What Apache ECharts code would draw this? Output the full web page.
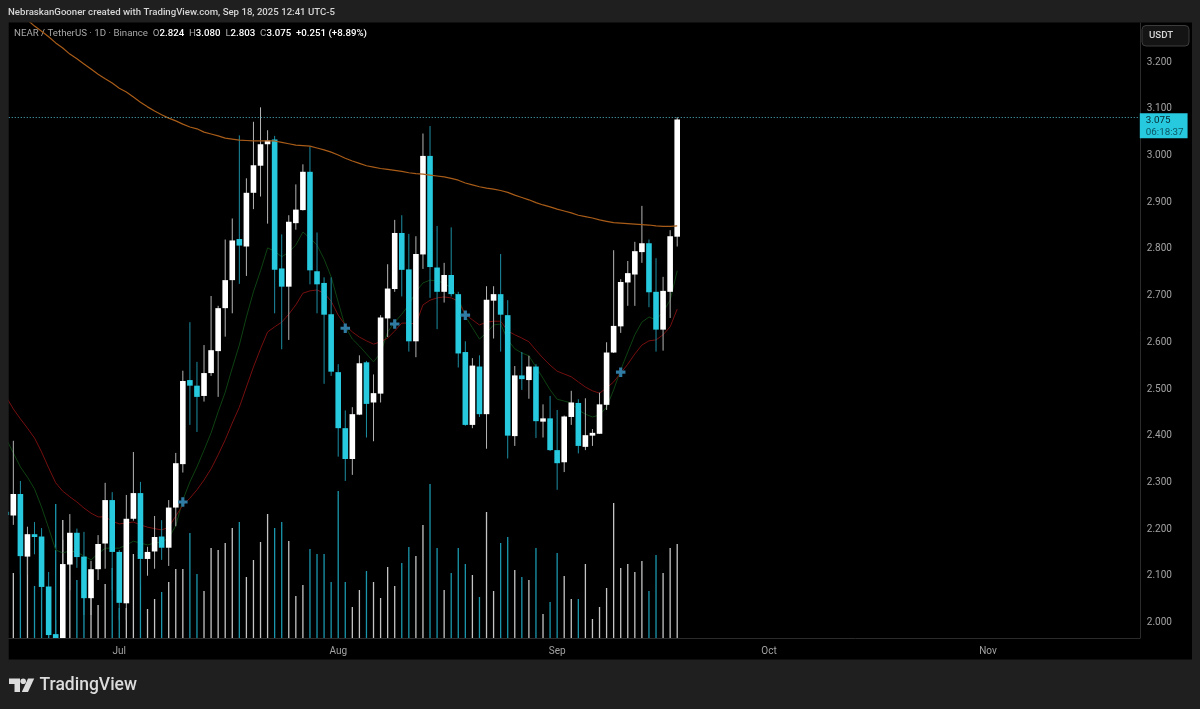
<!DOCTYPE html>
<html>
<head>
<meta charset="utf-8">
<title>NEAR / TetherUS</title>
<script src="https://cdn.jsdelivr.net/npm/echarts@6/dist/echarts.min.js"></script>
<style>
  html, body { margin: 0; padding: 0; background: #1f1f1f; }
  #main { width: 1200px; height: 709px; }
</style>
</head>
<body>
<div id="main"></div>
<script type="text/javascript">
// daily candles, from Jun 15 2025 to Sep 18 2025 (the first one is cut off by the pane edge)
var opens = [
  2.235,
  2.227,2.273,2.139,2.187,2.182,2.075,1.973,1.955,2.122,2.190,2.139,2.050,2.112,2.167,2.260,2.149,2.039,2.220,2.275,2.134,
  2.150,2.182,2.158,2.244,2.337,2.517,2.505,2.483,2.532,2.579,2.671,2.731,2.819,2.803,2.918,2.976,3.022,3.032,2.756,2.717,
  2.853,2.881,2.963,2.750,2.725,2.658,2.534,2.414,2.348,2.443,2.555,2.469,2.488,2.649,2.712,2.832,2.754,2.600,2.786,2.997,
  2.758,2.706,2.742,2.701,2.577,2.421,2.546,2.444,2.687,2.701,2.656,2.397,2.527,2.517,2.546,2.428,2.435,2.367,2.341,2.438,
  2.468,2.374,2.398,2.402,2.464,2.576,2.632,2.726,2.743,2.791,2.810,2.706,2.625,2.706,2.824
];
var closes = [
  2.228,
  2.273,2.140,2.187,2.181,2.074,1.971,1.955,2.123,2.190,2.138,2.050,2.112,2.166,2.260,2.149,2.040,2.220,2.275,2.134,2.149,
  2.181,2.158,2.244,2.339,2.515,2.505,2.481,2.532,2.581,2.671,2.731,2.816,2.805,2.918,2.977,3.022,3.030,2.753,2.717,2.856,
  2.882,2.963,2.752,2.722,2.657,2.535,2.414,2.348,2.444,2.553,2.466,2.489,2.651,2.713,2.832,2.753,2.600,2.787,2.997,2.759,
  2.706,2.742,2.701,2.574,2.421,2.548,2.444,2.689,2.701,2.657,2.398,2.527,2.519,2.546,2.429,2.435,2.367,2.339,2.439,2.469,
  2.376,2.399,2.404,2.465,2.576,2.633,2.727,2.746,2.793,2.810,2.705,2.625,2.708,2.825,3.075
];
var lows = [
  2.220,
  2.207,2.100,2.100,2.144,2.046,1.965,1.945,1.945,2.067,2.115,2.014,2.014,2.089,2.113,2.067,2.003,2.003,2.216,2.078,2.098,
  2.113,2.132,2.119,2.204,2.319,2.421,2.406,2.471,2.526,2.481,2.610,2.660,2.723,2.740,2.883,2.910,2.852,2.660,2.583,2.603,
  2.839,2.880,2.722,2.660,2.509,2.526,2.353,2.301,2.314,2.442,2.394,2.386,2.469,2.609,2.706,2.696,2.578,2.566,2.755,2.693,
  2.626,2.683,2.696,2.544,2.419,2.414,2.438,2.370,2.606,2.578,2.349,2.376,2.496,2.477,2.393,2.394,2.365,2.282,2.320,2.421,
  2.360,2.367,2.376,2.402,2.453,2.575,2.618,2.676,2.676,2.768,2.673,2.578,2.580,2.650,2.803
];
var highs = [
  2.250,
  2.387,2.301,2.203,2.213,2.200,2.106,2.003,2.175,2.230,2.199,2.192,2.130,2.185,2.297,2.277,2.153,2.271,2.363,2.299,2.160,
  2.226,2.217,2.260,2.361,2.537,2.641,2.556,2.592,2.697,2.676,2.818,2.863,3.041,2.949,3.070,3.101,3.052,3.040,2.829,2.870,
  2.936,2.979,3.017,2.833,2.737,2.737,2.551,2.452,2.459,2.570,2.558,2.529,2.656,2.765,2.860,2.870,2.830,2.825,3.045,3.061,
  2.847,2.768,2.844,2.706,2.600,2.564,2.570,2.718,2.718,2.787,2.688,2.547,2.577,2.569,2.551,2.465,2.483,2.453,2.441,2.494,
  2.476,2.478,2.412,2.490,2.598,2.795,2.733,2.772,2.813,2.890,2.818,2.778,2.738,2.838,3.080
];
// volume has no scale on the picture, these are relative heights
var volumes = [
  60,
  65,100,90,52,70,30,134,118,80,58,80,50,33,54,70,30,30,84,78,29,
  39,46,56,69,69,105,64,47,90,88,95,110,116,61,78,96,124,110,116,97,
  42,53,89,84,84,56,147,56,31,48,67,56,40,71,52,75,91,82,113,154,
  90,48,65,90,74,63,41,126,47,95,101,68,61,58,90,24,36,85,62,39,
  39,74,19,31,50,135,70,74,66,77,47,83,65,90,94
];
var emaFast = [
  2.391,
  2.361,2.331,2.309,2.284,2.245,2.200,2.153,2.147,2.151,2.149,2.140,2.132,2.145,2.157,2.157,2.157,2.164,2.172,2.168,2.164,
  2.168,2.170,2.179,2.205,2.260,2.299,2.331,2.367,2.404,2.449,2.491,2.543,2.592,2.652,2.706,2.751,2.800,2.793,2.781,2.791,
  2.806,2.834,2.821,2.806,2.776,2.738,2.684,2.631,2.605,2.590,2.573,2.556,2.575,2.620,2.641,2.658,2.678,2.706,2.725,2.731,
  2.729,2.725,2.714,2.693,2.654,2.629,2.605,2.618,2.635,2.637,2.603,2.584,2.575,2.569,2.545,2.521,2.496,2.476,2.472,2.468,
  2.453,2.444,2.438,2.442,2.459,2.496,2.539,2.577,2.614,2.641,2.652,2.646,2.663,2.688,2.751
];
var emaSlow = [
  2.481,
  2.455,2.434,2.414,2.393,2.363,2.329,2.297,2.279,2.267,2.256,2.243,2.232,2.224,2.224,2.215,2.209,2.211,2.213,2.207,2.202,
  2.199,2.196,2.202,2.226,2.249,2.264,2.282,2.303,2.327,2.357,2.389,2.425,2.459,2.502,2.545,2.584,2.620,2.631,2.641,2.658,
  2.678,2.703,2.708,2.710,2.703,2.686,2.656,2.635,2.620,2.609,2.601,2.594,2.599,2.607,2.622,2.639,2.639,2.637,2.678,2.688,
  2.693,2.695,2.693,2.686,2.658,2.646,2.635,2.641,2.643,2.643,2.622,2.614,2.607,2.599,2.581,2.564,2.549,2.536,2.530,2.524,
  2.513,2.502,2.494,2.489,2.500,2.513,2.532,2.551,2.573,2.592,2.601,2.603,2.614,2.631,2.669
];
var maLong = [
  3.350,
  3.330,3.310,3.288,3.275,3.264,3.252,3.239,3.228,3.215,3.205,3.194,3.183,3.172,3.162,3.153,3.142,3.134,3.123,3.112,3.102,
  3.093,3.085,3.078,3.072,3.065,3.059,3.055,3.048,3.044,3.040,3.035,3.033,3.031,3.030,3.029,3.029,3.029,3.029,3.026,3.023,
  3.020,3.019,3.018,3.014,3.010,3.005,2.999,2.992,2.986,2.981,2.976,2.973,2.970,2.968,2.966,2.964,2.961,2.959,2.958,2.956,
  2.954,2.952,2.949,2.945,2.939,2.935,2.931,2.928,2.926,2.923,2.919,2.913,2.908,2.903,2.897,2.892,2.888,2.883,2.879,2.875,
  2.870,2.867,2.864,2.860,2.857,2.854,2.853,2.852,2.851,2.850,2.849,2.847,2.846,2.846,2.847
];
// [candle index, price] of the blue crosses
var crosses = [[25, 2.256], [48, 2.628], [55, 2.637], [65, 2.656], [87, 2.534]];
var priceTicks = [2.0, 2.1, 2.2, 2.3, 2.4, 2.5, 2.6, 2.7, 2.8, 2.9, 3.0, 3.1, 3.2];
var monthNames = {6: 'Jul', 7: 'Aug', 8: 'Sep', 9: 'Oct', 10: 'Nov'};
var lastClose = 3.075;
var countdown = '06:18:37';
var headerText = 'NebraskanGooner created with TradingView.com, Sep 18, 2025 12:41 UTC-5';

var upColor = '#ffffff', downColor = '#26c9de';
var upWick = '#b4b4b4', downWick = '#1c8ea3';
var upVol = '#c4c4c4', downVol = '#1a97ad';

// axis runs on past the last candle, up to the start of Nov and a bit more
var categories = [];
for (var d = 0; d < 161; d++) {
  var day = new Date(Date.UTC(2025, 5, 15 + d));
  categories.push(day.toISOString().slice(0, 10));
}
function monthStart(idx) {
  var p = categories[idx].split('-');
  return p[2] === '01' && monthNames[+p[1] - 1] !== undefined;
}

var candleData = opens.map(function (o, i) { return [i, o, closes[i], lows[i], highs[i]]; });
var volumeData = volumes.map(function (v, i) {
  return {value: v, itemStyle: {color: closes[i] >= opens[i] ? upVol : downVol}};
});

function renderCandle(params, api) {
  var i = api.value(0), o = api.value(1), c = api.value(2), l = api.value(3), h = api.value(4);
  var isUp = c >= o;
  var top = api.coord([i, Math.max(o, c)]);
  var bottom = api.coord([i, Math.min(o, c)]);
  var wickTop = api.coord([i, h]);
  var wickBottom = api.coord([i, l]);
  var w = 5.6;
  return {
    type: 'group',
    children: [{
      type: 'line',
      shape: {x1: top[0], y1: wickTop[1], x2: top[0], y2: wickBottom[1]},
      style: {stroke: isUp ? upWick : downWick, lineWidth: 1}
    }, {
      type: 'rect',
      shape: {x: top[0] - w / 2, y: top[1], width: w, height: Math.max(bottom[1] - top[1], 1)},
      style: {fill: isUp ? upColor : downColor}
    }]
  };
}

var axisText = {color: '#a3a3a3', fontSize: 10, padding: [2, 0, 0, 0], fontFamily: 'Roboto'};

var myChart = echarts.init(document.getElementById('main'));
var option = {
  animation: false,
  backgroundColor: '#1f1f1f',
  textStyle: {fontFamily: 'Roboto'},
  // the grid starts left of the pane, the Jun 15 candle sits under the frame
  grid: {left: 2.74, top: 23, width: 1137.06, height: 615},
  xAxis: {
    type: 'category',
    data: categories,
    axisLine: {lineStyle: {color: '#2b2b2b'}},
    axisTick: {show: false},
    splitLine: {show: false},
    axisLabel: {
      margin: 6,
      rich: {t: axisText},
      interval: function (idx) { return monthStart(idx); },
      formatter: function (val) { return '{t|' + monthNames[+val.split('-')[1] - 1] + '}'; }
    }
  },
  yAxis: [{
    type: 'value',
    position: 'right',
    min: 1.9647,
    max: 3.2816,
    scale: true,
    axisLine: {show: true, lineStyle: {color: '#2b2b2b'}},
    axisTick: {show: false},
    splitLine: {show: false},
    axisLabel: {
      margin: 7,
      rich: {t: axisText},
      customValues: priceTicks,
      formatter: function (v) { return '{t|' + v.toFixed(3) + '}'; }
    }
  }, {
    type: 'value',
    min: 0,
    max: 615,
    show: false
  }],
  series: [{
    name: 'Volume',
    type: 'bar',
    yAxisIndex: 1,
    barWidth: 1.3,
    z: 1,
    data: volumeData
  }, {
    name: 'EMA fast',
    type: 'line',
    data: emaFast,
    showSymbol: false,
    z: 2,
    lineStyle: {color: '#0e4212', width: 1}
  }, {
    name: 'EMA slow',
    type: 'line',
    data: emaSlow,
    showSymbol: false,
    z: 2,
    lineStyle: {color: '#760f0f', width: 1}
  }, {
    name: 'NEAR',
    type: 'custom',
    renderItem: renderCandle,
    clip: true,
    z: 3,
    data: candleData,
    encode: {x: 0, y: [1, 2, 3, 4]}
  }, {
    name: 'MA long',
    type: 'line',
    data: maLong,
    showSymbol: false,
    z: 4,
    lineStyle: {color: '#a85c18', width: 1.2},
    markLine: {
      silent: true,
      symbol: 'none',
      animation: false,
      lineStyle: {type: [1, 2], color: '#4fb6c6', width: 1},
      label: {
        position: 'end',
        distance: 0,
        formatter: '{a|' + lastClose.toFixed(3) + '}\n{b|' + countdown + '}',
        backgroundColor: downColor,
        padding: [1, 4, 0, 6],
        align: 'left',
        verticalAlign: 'top',
        offset: [0, -4],
        rich: {
          a: {color: '#07282e', fontSize: 9.8, lineHeight: 12, fontFamily: 'Roboto'},
          b: {color: '#0b5562', fontSize: 9.8, lineHeight: 12, fontFamily: 'Roboto'}
        }
      },
      data: [{yAxis: lastClose}]
    }
  }, {
    name: 'Signal',
    type: 'scatter',
    data: crosses,
    z: 5,
    symbol: 'path://M3,0 H6 V3 H9 V6 H6 V9 H3 V6 H0 V3 H3 Z',
    symbolSize: 9.5,
    itemStyle: {color: '#2f7ba3', opacity: 1}
  }],
  graphic: [{
    // black pane behind the chart and the price axis
    type: 'rect', z: -10, silent: true,
    shape: {x: 8.5, y: 22.5, width: 1183.5, height: 637},
    style: {fill: '#000000'}
  }, {
    // frame over the left end of the grid
    type: 'rect', z: 10, silent: true,
    shape: {x: 0, y: 20, width: 8.5, height: 642},
    style: {fill: '#1f1f1f'}
  }, {
    type: 'text', left: 8, top: 8,
    style: {text: headerText, fill: '#d6d6d6', font: '500 9.65px Roboto'}
  }, {
    type: 'text', left: 14, top: 29,
    style: {
      text: '{g|NEAR / TetherUS · 1D · Binance}  {g|O}{w|2.824}  {g|H}{w|3.080}  {g|L}{w|2.803}  {g|C}{w|3.075}  {w|+0.251 (+8.89%)}',
      font: '9.7px Roboto',
      rich: {
        g: {fill: '#a8a8a8', font: '9.7px Roboto'},
        w: {fill: '#ffffff', font: '500 9.7px Roboto'}
      }
    }
  }, {
    type: 'rect', silent: true,
    shape: {x: 1142, y: 25.5, width: 47, height: 20.5, r: 4},
    style: {fill: '#141414', stroke: '#3c3c3c', lineWidth: 1}
  }, {
    type: 'text', left: 1149, top: 31,
    style: {text: 'USDT', fill: '#d6d6d6', font: '500 9.7px Roboto'}
  }, {
    // TradingView logo
    type: 'polygon', silent: true,
    shape: {points: [[9, 678.5], [20, 678.5], [20, 692], [14.5, 692], [14.5, 684], [9, 684]]},
    style: {fill: '#dcdcdc'}
  }, {
    type: 'circle', silent: true,
    shape: {cx: 23.2, cy: 681.3, r: 2.8},
    style: {fill: '#dcdcdc'}
  }, {
    type: 'polygon', silent: true,
    shape: {points: [[28, 678.5], [34.2, 678.5], [28, 692], [21.8, 692]]},
    style: {fill: '#dcdcdc'}
  }, {
    type: 'text', left: 39.5, top: 676.5,
    style: {text: 'TradingView', fill: '#dcdcdc', font: '500 17.5px Roboto'}
  }]
};
myChart.setOption(option);
</script>
</body>
</html>
